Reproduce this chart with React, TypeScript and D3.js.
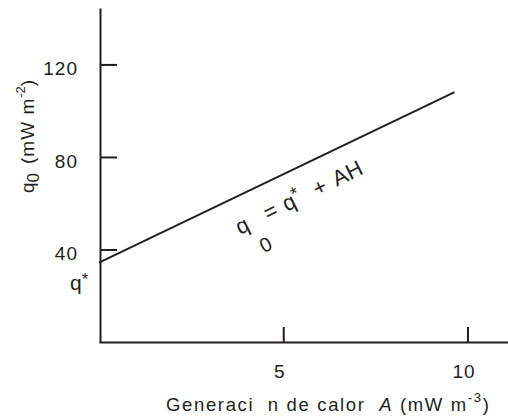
import React, { useEffect, useRef } from 'react';
import * as d3 from 'd3';

// values
const heatGen = [0, 9.65]; // A (mW m-3)
const heatFlow = [34.3, 108]; // q0 (mW m-2)
const xTicks = [5, 10];
const yTicks = [40, 80, 120];
const xDomain = [0, 11.1];
const yDomain = [0, 144.4];

const INK = '#231f20';
const FONT = '"Liberation Sans", Arial, sans-serif';

const App = () => {
  const ref = useRef<SVGSVGElement>(null);

  useEffect(() => {
    const svg = d3.select(ref.current);
    svg.selectAll('*').remove();

    const x = d3.scaleLinear().domain(xDomain).range([99, 508]);
    const y = d3.scaleLinear().domain(yDomain).range([342, 8]);

    // x axis, ticks pointing inward
    const gx = svg.append('g').attr('transform', `translate(0,${y(0)})`)
      .call(d3.axisBottom(x).tickValues(xTicks).tickSizeInner(-15).tickSizeOuter(0).tickPadding(0));
    gx.select('.domain').attr('stroke', INK).attr('stroke-width', 2);
    gx.selectAll('.tick line').attr('stroke', INK).attr('stroke-width', 2);
    gx.selectAll('.tick text')
      .attr('y', 36).attr('dy', 0).attr('dx', -4)
      .attr('fill', INK).style('font-size', '19px').style('font-family', FONT)
      .style('letter-spacing', '1px');

    // y axis
    const gy = svg.append('g').attr('transform', `translate(${x(0) + 1},0)`)
      .call(d3.axisLeft(y).tickValues(yTicks).tickSizeInner(-17).tickSizeOuter(0).tickPadding(22));
    gy.select('.domain').attr('stroke', INK).attr('stroke-width', 2);
    gy.selectAll('.tick line').attr('stroke', INK).attr('stroke-width', 2);
    gy.selectAll('.tick text')
      .attr('dy', '0.55em')
      .attr('fill', INK).style('font-size', '19px').style('font-family', FONT)
      .style('letter-spacing', '1px');

    // q* label at the intercept
    const qs = svg.append('text')
      .attr('x', x(0) - 29).attr('y', y(heatFlow[0]) + 27)
      .attr('fill', INK).style('font-size', '21px').style('font-family', FONT);
    qs.append('tspan').text('q');
    qs.append('tspan').attr('dy', -5).style('font-size', '17px').text('*');

    // the line
    const pts = heatGen.map((a, i) => [x(a), y(heatFlow[i])] as [number, number]);
    svg.append('path')
      .attr('d', d3.line()(pts))
      .attr('fill', 'none').attr('stroke', INK).attr('stroke-width', 2);

    // equation along the line
    const ang = Math.atan2(pts[0][1] - pts[1][1], pts[1][0] - pts[0][0]) * 180 / Math.PI;
    const eq = svg.append('g')
      .attr('transform', `translate(${x(3.83)},${y(46.3)}) rotate(${-ang - 0.8})`)
      .attr('fill', INK).style('font-family', FONT);
    const piece = (t: string, px: number, py = 0, size = 22) =>
      eq.append('text').attr('x', px).attr('y', py).style('font-size', `${size}px`).text(t);
    piece('q', 0);
    piece('0', 13, 27, 20);
    piece('=', 31);
    piece('q', 52);
    piece('*', 64, -7, 18);
    piece('+', 86);
    piece('A', 108);
    piece('H', 123);

    // y label
    const yl = svg.append('text')
      .attr('transform', 'translate(34,193) rotate(-90)')
      .attr('fill', INK).style('font-size', '19px').style('font-family', FONT);
    yl.append('tspan').text('q');
    yl.append('tspan').attr('dy', 5).style('font-size', '17px').text('0');
    yl.append('tspan').attr('dx', 9).attr('dy', -5).style('letter-spacing', '1px').text('(mW m');
    yl.append('tspan').attr('dy', -9).style('font-size', '13px').text('-2');
    yl.append('tspan').attr('dy', 9).text(')');

    // x label
    const xl = svg.append('text')
      .attr('x', 166).attr('y', 411)
      .attr('fill', INK).style('font-size', '18.5px').style('font-family', FONT)
      .style('letter-spacing', '1.65px');
    xl.append('tspan').text('Generaci\u00a0\u00a0n de calor\u00a0\u00a0');
    xl.append('tspan').style('font-style', 'italic').text('A');
    xl.append('tspan').text(' (mW m');
    xl.append('tspan').attr('dy', -9).style('font-size', '13px').text('-3');
    xl.append('tspan').attr('dy', 9).text(')');
  }, []);

  return (
    <svg ref={ref} width={508} height={417}
      style={{ position: 'absolute', left: 0, top: 0, background: '#fff' }} />
  );
};

export default App;
